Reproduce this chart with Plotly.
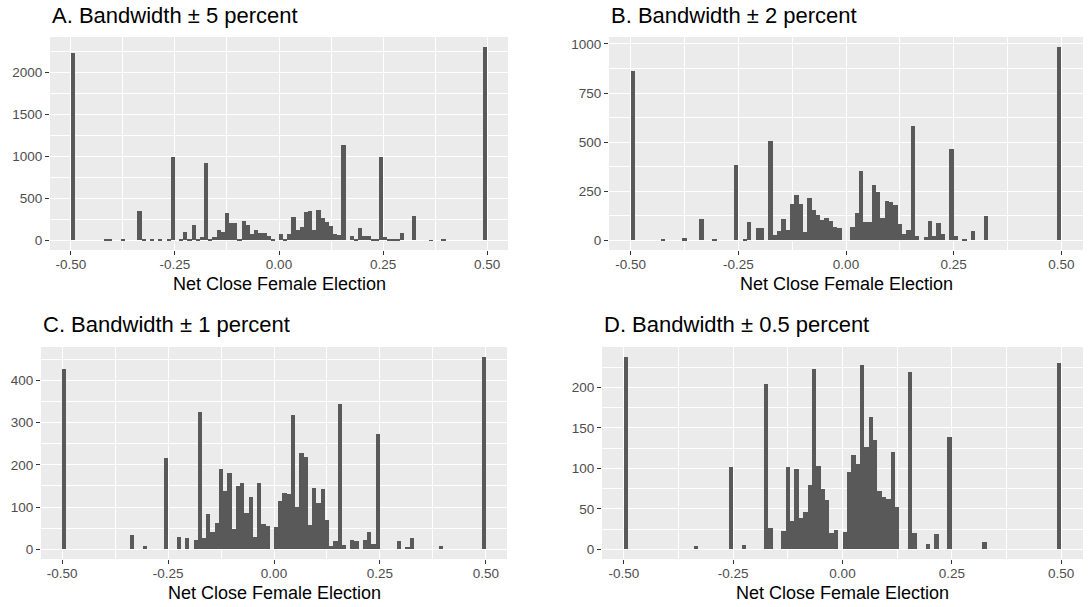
import plotly.graph_objects as go

# ---- data: histogram bins (index of 0.01-wide bin starting at -0.50) and counts ----
bin_width = 0.01
bin_origin = -0.5

bins_a = [0, 8, 9, 12, 16, 17, 19, 21, 23, 24, 26, 27, 28, 29, 30, 31, 32, 33, 34, 35, 36, 37, 38, 39, 40,
          41, 42, 43, 44, 45, 46, 47, 48, 50, 51, 52, 53, 54, 55, 56, 57, 58, 59, 60, 61, 62, 63, 64, 65,
          67, 68, 69, 70, 71, 72, 73, 74, 75, 76, 77, 78, 79, 82, 86, 89, 99]
counts_a = [2230, 8, 8, 15, 345, 8, 5, 4, 8, 990, 20, 98, 10, 180, 5, 34, 918, 15, 34, 122, 98, 330, 204, 204, 6,
            230, 185, 76, 124, 87, 87, 47, 15, 70, 12, 70, 275, 128, 155, 335, 345, 122, 357, 272, 224, 170, 72, 60, 1140,
            50, 20, 145, 48, 56, 8, 5, 995, 38, 5, 5, 5, 86, 295, 3, 18, 2310]

bins_b = [0, 7, 12, 16, 19, 24, 26, 27, 29, 30, 32, 33, 34, 35, 36, 37, 38, 39, 40, 41, 42, 43, 44, 45, 46,
          47, 48, 51, 52, 53, 54, 55, 56, 57, 58, 59, 60, 61, 62, 63, 64, 65, 66, 68, 69, 70, 71, 72, 74, 75,
          77, 79, 82, 99]
counts_b = [864, 7, 10, 110, 8, 386, 8, 95, 63, 63, 508, 25, 48, 109, 54, 185, 231, 187, 43, 216, 156, 128, 102, 116, 100,
            66, 61, 70, 141, 354, 92, 92, 282, 245, 112, 200, 195, 182, 82, 34, 53, 580, 24, 15, 97, 20, 90, 34, 464, 20,
            8, 48, 122, 986]

bins_c = [0, 16, 19, 24, 27, 29, 31, 32, 33, 34, 35, 36, 37, 38, 39, 40, 41, 42, 43, 44, 45, 46, 47, 48,
          50, 51, 52, 53, 54, 55, 56, 57, 58, 59, 60, 61, 62, 63, 64, 65, 66, 68, 69, 71, 72, 73, 74, 79, 81,
          82, 89, 99]
counts_c = [427, 34, 7, 215, 29, 27, 23, 326, 26, 84, 41, 62, 190, 138, 180, 49, 150, 158, 87, 124, 30, 158, 59, 55,
            52, 115, 133, 131, 319, 100, 228, 218, 57, 146, 110, 142, 70, 8, 19, 345, 10, 22, 20, 22, 40, 12, 274, 20, 6,
            27, 7, 456]

bins_d = [0, 16, 24, 27, 32, 33, 36, 37, 38, 39, 40, 41, 42, 43, 44, 45, 46, 47, 48, 50, 51, 52, 53, 54,
          55, 56, 57, 58, 59, 60, 61, 62, 65, 66, 69, 71, 74, 82, 99]
counts_d = [238, 4, 102, 6, 204, 27, 23, 102, 35, 99, 39, 46, 80, 223, 103, 75, 61, 20, 24, 22, 96, 116, 106, 228,
            127, 163, 135, 72, 65, 62, 120, 52, 219, 20, 7, 19, 139, 9, 230]

panel_titles = ["A. Bandwidth \u00b1 5 percent", "B. Bandwidth \u00b1 2 percent",
                "C. Bandwidth \u00b1 1 percent", "D. Bandwidth \u00b1 0.5 percent"]
x_title = "Net Close Female Election"
x_tick_vals = [-0.5, -0.25, 0.0, 0.25, 0.5]
x_tick_labels = ["-0.50", "-0.25", "0.00", "0.25", "0.50"]
x_minor_vals = [-0.375, -0.125, 0.125, 0.375]
y_tick_vals = [[0, 500, 1000, 1500, 2000], [0, 250, 500, 750, 1000],
               [0, 100, 200, 300, 400], [0, 50, 100, 150, 200]]
y_minor_vals = [[250, 750, 1250, 1750, 2250], [125, 375, 625, 875],
                [50, 150, 250, 350, 450], [25, 75, 125, 175, 225]]

W, H = 1090, 607
# panel boxes in pixels: (left, right, top, bottom)
boxes = [(50, 508, 37, 250), (609, 1083, 37, 250),
         (41, 507, 347, 559), (602, 1083, 347, 559)]

FONT = "Liberation Sans, Arial, Helvetica, sans-serif"
BAR = "#595959"

fig = go.Figure()
series = [(bins_a, counts_a), (bins_b, counts_b), (bins_c, counts_c), (bins_d, counts_d)]

annotations = []
for i, ((bins, counts), box) in enumerate(zip(series, boxes)):
    n = "" if i == 0 else str(i + 1)
    centers = [bin_origin + (k + 0.5) * bin_width for k in bins]
    fig.add_trace(go.Bar(x=centers, y=counts, width=bin_width, marker_color=BAR,
                         marker_line_width=0, xaxis="x" + n, yaxis="y" + n,
                         showlegend=False))
    l, r, t, b = box
    ymax = max(counts)
    pad = 0.05 * ymax
    fig.update_layout(**{
        "xaxis" + n: dict(domain=[l / W, r / W], anchor="y" + n, range=[-0.55, 0.55],
                          tickvals=x_tick_vals, ticktext=x_tick_labels,
                          showgrid=True, gridcolor="white", gridwidth=1.1, zeroline=False,
                          ticks="outside", ticklen=4, tickwidth=1, tickcolor="#333333",
                          ticklabelstandoff=-2,
                          tickfont=dict(family=FONT, size=13.5, color="#4D4D4D"),
                          minor=dict(tickvals=x_minor_vals, showgrid=True, gridcolor="white",
                                     gridwidth=0.55, ticks=""),
                          showline=False, fixedrange=True),
        "yaxis" + n: dict(domain=[1 - b / H, 1 - t / H], anchor="x" + n, range=[-pad, ymax + pad],
                          tickvals=y_tick_vals[i],
                          showgrid=True, gridcolor="white", gridwidth=1.1, zeroline=False,
                          ticks="outside", ticklen=4, tickwidth=1, tickcolor="#333333",
                          tickfont=dict(family=FONT, size=13.5, color="#4D4D4D"),
                          minor=dict(tickvals=y_minor_vals[i], showgrid=True, gridcolor="white",
                                     gridwidth=0.55, ticks=""),
                          showline=False, fixedrange=True),
    })
    annotations.append(dict(text=panel_titles[i], x=l / W, y=1 - (t - 22) / H, xref="paper", yref="paper",
                            xanchor="left", yanchor="middle", showarrow=False,
                            font=dict(family=FONT, size=22, color="black")))
    annotations.append(dict(text=x_title, x=(l + r) / 2 / W, y=1 - (b + 34) / H, xref="paper", yref="paper",
                            xanchor="center", yanchor="middle", showarrow=False,
                            font=dict(family=FONT, size=18, color="black")))

fig.update_layout(width=W, height=H, margin=dict(l=0, r=0, t=0, b=0),
                  paper_bgcolor="white", plot_bgcolor="#EBEBEB",
                  annotations=annotations, bargap=0)

fig.write_html("out.html")
